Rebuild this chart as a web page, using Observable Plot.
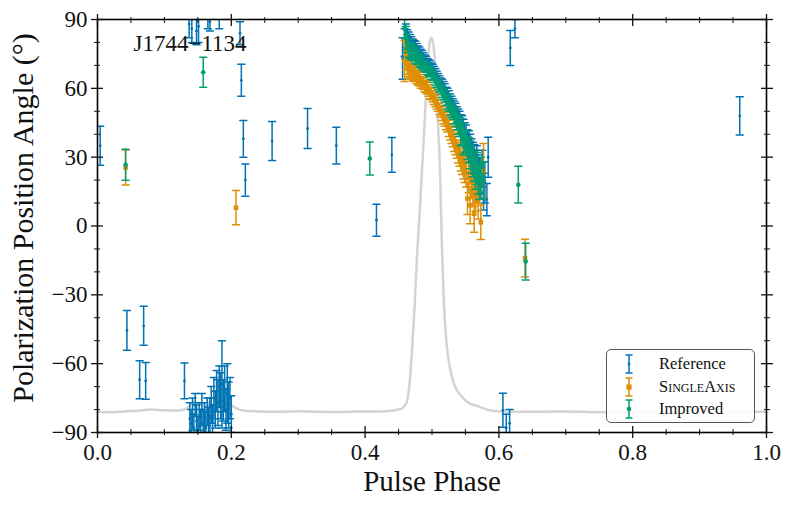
<!DOCTYPE html>
<html><head><meta charset="utf-8">
<script src="https://cdn.jsdelivr.net/npm/d3@7"></script>
<script src="https://cdn.jsdelivr.net/npm/@observablehq/plot@0.6"></script>
<style>
body{margin:0;background:#fff;}
#wrap{position:relative;width:789px;height:507px;font-family:"Liberation Serif",serif;}
#legend{position:absolute;left:606px;top:349px;width:149px;height:74px;box-sizing:border-box;border:1.5px solid #555;border-radius:5px;background:rgba(255,255,255,0.85);}
.row{position:absolute;left:0;height:22px;width:100%;}
.row svg{position:absolute;left:16px;top:1px;}
.row span{position:absolute;left:52px;top:1px;font-size:16.5px;line-height:20px;color:#111;}
</style></head>
<body><div id="wrap"></div>
<script>
// ---- data ----
const title = "J1744\u22121134";
const xLabel = "Pulse Phase";
const yLabel = "Polarization Position Angle (\u00b0)";
const seriesNames = ["Reference", "SingleAxis", "Improved"];
const seriesColors = ["#0173B2", "#DE8F05", "#029E73"];

const xMajor = [0, 0.2, 0.4, 0.6, 0.8, 1.0];
const xMinor = [0.05, 0.1, 0.15, 0.25, 0.3, 0.35, 0.45, 0.5, 0.55, 0.65, 0.7, 0.75, 0.85, 0.9, 0.95];
const yMajor = [-90, -60, -30, 0, 30, 60, 90];
const yMinor = [-80, -70, -50, -40, -20, -10, 10, 20, 40, 50, 70, 80];

const profPhase = [0, 0.02, 0.04, 0.06, 0.08, 0.10, 0.12, 0.13, 0.135, 0.14, 0.145, 0.15, 0.155, 0.16, 0.165, 0.17, 0.175, 0.18, 0.185, 0.19, 0.195, 0.20, 0.205, 0.21, 0.22, 0.24, 0.27, 0.30, 0.33, 0.36, 0.39, 0.42, 0.44, 0.45, 0.455, 0.46, 0.463, 0.466, 0.47, 0.474, 0.478, 0.482, 0.485, 0.489, 0.493, 0.496, 0.499, 0.502, 0.505, 0.508, 0.512, 0.515, 0.518, 0.522, 0.527, 0.532, 0.538, 0.545, 0.552, 0.56, 0.567, 0.575, 0.59, 0.62, 0.66, 0.70, 0.75, 0.80, 0.85, 0.90, 0.95, 1.0];
const profPA = [-81, -81.2, -80.8, -80.5, -80, -80.3, -80.4, -80, -79, -77.5, -76.8, -77, -77.8, -78.6, -79, -79.2, -78.8, -78.3, -78, -77.8, -77.8, -78.2, -79, -79.8, -80.5, -80.8, -81, -80.7, -81, -81.1, -80.9, -80.8, -80.5, -80, -79.5, -78, -76, -70, -55, -35, -11, 8, 24, 45, 69, 79, 82, 79, 69, 50, 24, -11, -35, -52, -62, -68, -72, -74.5, -76.5, -77.8, -78.3, -79.3, -80.5, -81, -81, -80.8, -81.2, -81, -81.2, -81, -81.1, -81];

const refPhase = [0.004, 0.044, 0.063, 0.069, 0.072, 0.130,
  0.138, 0.140, 0.142, 0.144, 0.146, 0.148, 0.150, 0.152, 0.154, 0.156, 0.158, 0.160, 0.162, 0.164, 0.166, 0.168, 0.170, 0.172, 0.174, 0.176, 0.178, 0.180, 0.182, 0.184, 0.186, 0.188, 0.190, 0.192, 0.194, 0.196, 0.198, 0.200,
  0.137, 0.141, 0.148, 0.151, 0.165, 0.168, 0.182, 0.213, 0.215, 0.218, 0.221, 0.261, 0.314, 0.357, 0.417, 0.440,
  0.456, 0.459, 0.461, 0.463, 0.465, 0.467, 0.469, 0.471, 0.473, 0.475, 0.477, 0.479, 0.481, 0.483, 0.485, 0.487, 0.489, 0.491, 0.493, 0.495, 0.497, 0.499, 0.501, 0.503, 0.505, 0.507, 0.509, 0.511, 0.513, 0.515, 0.517, 0.519, 0.521, 0.523, 0.525, 0.527, 0.529, 0.531, 0.533, 0.535, 0.537, 0.539, 0.541, 0.543, 0.545, 0.547, 0.549, 0.551, 0.553, 0.555, 0.557, 0.559, 0.561, 0.563, 0.565, 0.567, 0.569, 0.571, 0.573, 0.575, 0.577, 0.579, 0.582, 0.584,
  0.606, 0.611, 0.616, 0.617, 0.624, 0.960];
const refPA = [35, -45.5, -67, -43.5, -67.5, -67.5,
  -84, -86, -82, -88, -78, -85, -89, -83, -87, -80, -86, -84, -88, -81, -86, -83, -78, -85, -75, -80, -72, -77, -70, -74, -69, -76, -71, -80, -73, -78, -75, -82,
  88, 86, 85, 87, 91, 89, 91, 84, 63.5, 38, 20, 37, 42.5, 35, 2.5, 31,
  73, 80, 83, 81, 80.5, 80, 79, 78.5, 78, 77.5, 76.5, 76, 75.5, 74.5, 74, 73.5, 72.5, 72, 71, 70.5, 70, 69, 68.5, 67.5, 66.5, 65.5, 64.5, 63.5, 62.5, 61.5, 60.5, 59.5, 58, 57, 56, 54.5, 53.5, 52.5, 51, 50, 48.5, 47, 46, 44.5, 43.5, 42, 40, 39, 37, 36, 34, 32, 30.5, 29, 26, 28, 24, 22, 20, 25, 15, 19, 11.5, 30,
  -80.3, -88, -86, 77.6, 86, 48];
const refErr = [8.5, 8.7, 8.3, 8.5, 8, 7.8,
  7, 6, 7, 6, 5, 7, 6, 6, 7, 7, 6, 7, 7, 6, 7, 8, 8, 7, 9, 8, 9, 10, 9, 10, 19, 9, 10, 9, 13, 10, 9, 8,
  6, 6, 6, 7, 5, 4, 5, 5, 7, 8, 7, 8.5, 8.7, 8, 7, 7.6,
  9, 6, 5, 4.5, 4, 3.5, 3.5, 3, 3, 3, 3, 2.5, 2.5, 2.5, 2.5, 2, 2, 2, 2, 2, 2, 2, 2, 2, 2, 2, 2, 2, 2, 2.5, 2.5, 2.5, 2.5, 3, 3, 3, 3, 3, 3.5, 3.5, 3.5, 4, 4, 4, 4.5, 4.5, 5, 5, 5, 5.5, 6, 6, 6, 6.5, 7, 7, 7, 7.5, 8, 8, 8, 9, 7, 8.7,
  7.4, 6, 6, 7.6, 4, 8.3];

const saPhase = [0.042, 0.207,
  0.459, 0.461, 0.463, 0.465, 0.467, 0.469, 0.471, 0.473, 0.475, 0.477, 0.479, 0.481, 0.483, 0.485, 0.487, 0.489, 0.491, 0.493, 0.495, 0.497, 0.499, 0.501, 0.503, 0.505, 0.507, 0.509, 0.511, 0.513, 0.515, 0.517, 0.519, 0.521, 0.523, 0.525, 0.527, 0.529, 0.531, 0.533, 0.535, 0.537, 0.539, 0.541, 0.543, 0.545, 0.547, 0.549, 0.551, 0.553, 0.555, 0.557, 0.559, 0.561, 0.563, 0.565, 0.567, 0.569, 0.573, 0.577,
  0.639];
const saPA = [25.5, 8,
  72, 74, 71, 69.5, 68.5, 68, 67, 66.5, 66, 65, 64.5, 64, 63, 62.5, 62, 61, 60.5, 60, 59, 58, 57.5, 56.5, 55.5, 54.5, 53.5, 52.5, 51, 50, 49, 47.5, 46.5, 45, 44, 42.5, 41, 39.5, 38, 36.5, 35, 33.5, 32, 30.5, 29, 27.5, 26, 24.5, 23, 12, 21, 9, 19, 16, 5.3, 14, 18, 11, 1.6, 24,
  -14];
const saErr = [7.6, 7.5,
  9, 6, 5, 4.5, 4, 4, 3.5, 3.5, 3, 3, 3, 3, 3, 2.5, 2.5, 2.5, 2.5, 2.5, 2.5, 2.5, 2.5, 2.5, 2.5, 2.5, 2.5, 2.5, 2.5, 2.5, 3, 3, 3, 3, 3, 3.5, 3.5, 3.5, 3.5, 4, 4, 4, 4.5, 4.5, 5, 5, 5.5, 5.5, 6, 7, 6.5, 8, 7, 7.5, 8, 7.5, 8, 8, 7.5, 12,
  8.2];

const imPhase = [0.042, 0.158, 0.407,
  0.459, 0.461, 0.463, 0.465, 0.467, 0.469, 0.471, 0.473, 0.475, 0.477, 0.479, 0.481, 0.483, 0.485, 0.487, 0.489, 0.491, 0.493, 0.495, 0.497, 0.499, 0.501, 0.503, 0.505, 0.507, 0.509, 0.511, 0.513, 0.515, 0.517, 0.519, 0.521, 0.523, 0.525, 0.527, 0.529, 0.531, 0.533, 0.535, 0.537, 0.539, 0.541, 0.543, 0.545, 0.547, 0.549, 0.551, 0.553, 0.555, 0.557, 0.559, 0.561, 0.563, 0.565, 0.567, 0.569, 0.571, 0.573, 0.577,
  0.629, 0.640];
const imPA = [26.7, 67, 29.4,
  86, 82, 79.5, 77.5, 76.5, 76, 75.5, 75, 74, 73.5, 73, 72, 71.5, 71, 70, 69.5, 69, 68, 67.5, 67, 66, 65.5, 64.5, 63.5, 62.5, 61.5, 60.5, 59.5, 58.5, 57.5, 56.5, 55, 54, 53, 51.5, 50.5, 49.5, 48, 47, 45.5, 44, 43, 41, 40, 38, 37, 36, 34, 33, 31, 29, 27.5, 26, 23, 25, 21, 19, 22, 20,
  18, -15.5];
const imErr = [6.8, 6.5, 7.2,
  4, 5, 4, 4, 3.5, 3.5, 3, 3, 3, 3, 2.5, 2.5, 2.5, 2.5, 2, 2, 2, 2, 2, 2, 2, 2, 2, 2, 2, 2, 2, 2, 2.5, 2.5, 2.5, 2.5, 3, 3, 3, 3, 3, 3.5, 3.5, 3.5, 4, 4, 6, 4.5, 7, 5, 5, 5, 5.5, 6, 6, 6, 6.5, 7, 7, 7, 7.5, 8, 8,
  8, 8];

// ---- build ----
const rows = (p, a, e) => p.map((x, i) => ({x, y: a[i], e: e[i]}));
const series = [
  {rows: rows(refPhase, refPA, refErr), symbol: "circle", r: 1.4},
  {rows: rows(saPhase, saPA, saErr), symbol: "square", r: 2.6},
  {rows: rows(imPhase, imPA, imErr), symbol: "circle", r: 2.3}
];
const profile = profPhase.map((x, i) => ({x, y: profPA[i]}));
const lineShape = {draw(ctx, l) { ctx.moveTo(0, 0); ctx.lineTo(0, -l); }};

const font = "Liberation Serif";
const marks = [];
marks.push(Plot.line(profile, {x: "x", y: "y", stroke: "#d4d4d4", strokeWidth: 2.5, curve: "monotone-x", clip: true}));
series.forEach((s, k) => {
  const c = seriesColors[k];
  marks.push(Plot.ruleX(s.rows, {x: "x", y1: d => d.y - d.e, y2: d => d.y + d.e, stroke: c, strokeWidth: 1.5, clip: true}));
  for (const sgn of [1, -1]) {
    marks.push(Plot.vector(s.rows, {x: "x", y: d => d.y + sgn * d.e, length: 7, rotate: 90, anchor: "middle", shape: lineShape, stroke: c, strokeWidth: 1.5, clip: true}));
  }
  marks.push(Plot.dot(s.rows, {x: "x", y: "y", r: s.r, symbol: s.symbol, fill: c, stroke: "none", clip: true}));
});
marks.push(Plot.frame({stroke: "black", strokeWidth: 1.6}));

const fmtX = d => d3.format(".1f")(d);
const fmtY = d => d < 0 ? "\u2212" + Math.abs(d) : String(d);
const blank = () => "";
for (const anchor of ["bottom", "top"]) {
  const lab = anchor === "bottom";
  marks.push(Plot.axisX({ticks: xMajor, anchor, tickSize: 6, tickPadding: 5, tickFormat: lab ? fmtX : blank, label: null, fontSize: 23, strokeWidth: 1.3}));
  marks.push(Plot.axisX({ticks: xMajor, anchor, tickSize: -6, tickFormat: blank, label: null, strokeWidth: 1.3}));
  marks.push(Plot.axisX({ticks: xMinor, anchor, tickSize: 3, tickFormat: blank, label: null, strokeWidth: 1}));
  marks.push(Plot.axisX({ticks: xMinor, anchor, tickSize: -3, tickFormat: blank, label: null, strokeWidth: 1}));
}
for (const anchor of ["left", "right"]) {
  const lab = anchor === "left";
  marks.push(Plot.axisY({ticks: yMajor, anchor, tickSize: 6, tickPadding: 4, tickFormat: lab ? fmtY : blank, label: null, fontSize: 23, strokeWidth: 1.3}));
  marks.push(Plot.axisY({ticks: yMajor, anchor, tickSize: -6, tickFormat: blank, label: null, strokeWidth: 1.3}));
  marks.push(Plot.axisY({ticks: yMinor, anchor, tickSize: 3, tickFormat: blank, label: null, strokeWidth: 1}));
  marks.push(Plot.axisY({ticks: yMinor, anchor, tickSize: -3, tickFormat: blank, label: null, strokeWidth: 1}));
}
marks.push(Plot.text([title], {frameAnchor: "top-left", dx: 36, dy: 15, textAnchor: "start", lineAnchor: "top", fontSize: 23, fill: "#111"}));
marks.push(Plot.text([xLabel], {frameAnchor: "bottom", dy: 38, lineAnchor: "top", fontSize: 29, fill: "#111"}));
marks.push(Plot.text([yLabel], {frameAnchor: "left", dx: -74, dy: -8, rotate: -90, textAnchor: "middle", lineAnchor: "middle", fontSize: 30, fill: "#111"}));

const chart = Plot.plot({
  width: 789, height: 507,
  marginLeft: 97, marginRight: 23, marginTop: 19, marginBottom: 75,
  x: {domain: [0, 1]},
  y: {domain: [-90, 90]},
  style: {fontFamily: font, background: "white", color: "#111"},
  marks
});
const wrap = document.getElementById("wrap");
wrap.appendChild(chart);

// legend
const legend = document.createElement("div");
legend.id = "legend";
series.forEach((s, k) => {
  const c = seriesColors[k];
  const row = document.createElement("div");
  row.className = "row";
  row.style.top = (3 + k * 22.5) + "px";
  const mk = s.symbol === "square"
    ? `<rect x="${6 - s.r}" y="${10 - s.r}" width="${2 * s.r}" height="${2 * s.r}" fill="${c}"/>`
    : `<circle cx="6" cy="10" r="${s.r}" fill="${c}"/>`;
  row.innerHTML = `<svg width="12" height="20"><g stroke="${c}" stroke-width="1.5"><line x1="6" x2="6" y1="1" y2="19"/><line x1="2.5" x2="9.5" y1="1" y2="1"/><line x1="2.5" x2="9.5" y1="19" y2="19"/></g>${mk}</svg>`;
  const span = document.createElement("span");
  span.textContent = seriesNames[k];
  if (k === 1) span.style.fontVariant = "small-caps";
  row.appendChild(span);
  legend.appendChild(row);
});
wrap.appendChild(legend);
</script>
</body></html>
